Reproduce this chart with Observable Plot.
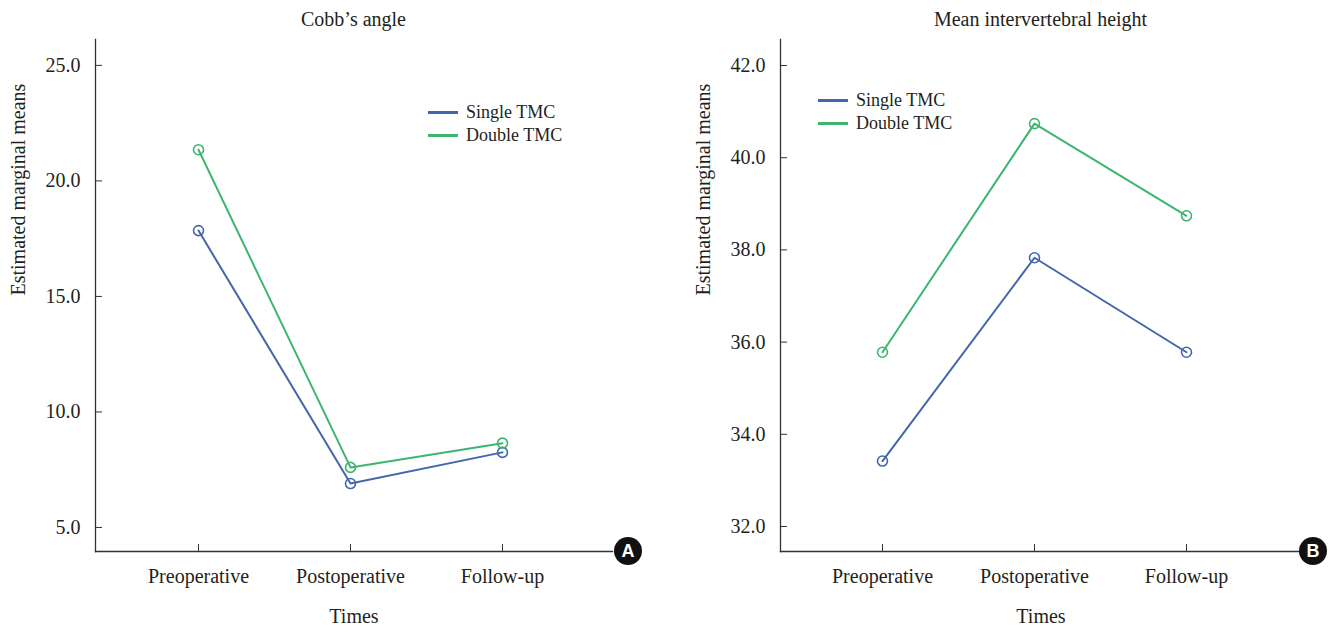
<!DOCTYPE html>
<html>
<head>
<meta charset="utf-8">
<script src="https://cdn.jsdelivr.net/npm/d3@7"></script>
<script src="https://cdn.jsdelivr.net/npm/@observablehq/plot@0.6"></script>
<style>
  html, body { margin: 0; padding: 0; background: #fff; }
  #wrap { position: relative; width: 1336px; height: 630px; overflow: hidden; font-family: "Liberation Serif", serif; color: #231f20; }
  .panel { position: absolute; top: 0; width: 668px; height: 630px; }
  .title { height: 38px; line-height: 38px; font-size: 20px; text-align: center; position: relative; white-space: nowrap; font-family: "Liberation Serif", serif; }
  .legend { position: absolute; font-size: 18px; font-family: "Liberation Serif", serif; }
  .legend .row { display: flex; align-items: center; height: 23px; }
  .legend .sw { width: 30px; height: 2.5px; margin-right: 8px; }
  .badge { position: absolute; width: 28px; height: 28px; border-radius: 50%; background: #111; color: #fff; font-family: "Liberation Sans", "DejaVu Sans", sans-serif; font-weight: bold; font-size: 18px; line-height: 28px; text-align: center; }
  svg { display: block; }
  svg text { font-family: "Liberation Serif", serif; }
</style>
</head>
<body>
<div id="wrap"></div>
<script>
// ---- Data ----
const times = ["Preoperative", "Postoperative", "Follow-up"];
const groups = ["Single TMC", "Double TMC"];
const groupColors = ["#4467ab", "#3db56f"];

const cobbSingle = [17.85, 6.9, 8.25];
const cobbDouble = [21.35, 7.6, 8.65];
const cobbTicks = [5, 10, 15, 20, 25];

const heightSingle = [33.42, 37.83, 35.78];
const heightDouble = [35.78, 40.74, 38.74];
const heightTicks = [32, 34, 36, 38, 40, 42];

const titles = ["Cobb\u2019s angle", "Mean intervertebral height"];
const xLabel = "Times";
const yLabel = "Estimated marginal means";
const badges = ["A", "B"];

function rowsOf(single, dbl) {
  const out = [];
  [single, dbl].forEach((arr, gi) => {
    times.forEach((t, i) => out.push({ time: t, group: groups[gi], value: arr[i] }));
  });
  return out;
}

const panels = [
  { left: 0, rows: rowsOf(cobbSingle, cobbDouble), ticks: cobbTicks, domain: [3.96, 26.12],
    mL: 95, mR: 56, padding: 0.69, align: 0.483, title: titles[0],
    legend: { left: 428, top: 101 }, badge: { cx: 628, cy: 551 }, letter: badges[0] },
  { left: 668, rows: rowsOf(heightSingle, heightDouble), ticks: heightTicks, domain: [31.458, 42.564],
    mL: 112, mR: 35, padding: 0.708, align: 0.468, title: titles[1],
    legend: { left: 150, top: 89 }, badge: { cx: 645, cy: 551 }, letter: badges[1] }
];

const wrap = document.getElementById("wrap");
const serif = "'Liberation Serif', serif";

panels.forEach(p => {
  const div = document.createElement("div");
  div.className = "panel";
  div.style.left = p.left + "px";
  wrap.appendChild(div);

  const W = 668, H = 592;
  const t = document.createElement("div");
  t.className = "title";
  t.style.marginLeft = p.mL + "px";
  t.style.width = (W - p.mL - p.mR) + "px";
  t.textContent = p.title;
  div.appendChild(t);

  const chart = Plot.plot({
    width: W,
    height: H,
    marginLeft: p.mL,
    marginRight: p.mR,
    marginTop: 1,
    marginBottom: 79,
    style: { fontFamily: serif, fontSize: "20px", color: "#231f20", background: "transparent" },
    x: { type: "point", domain: times, padding: p.padding, align: p.align },
    y: { domain: p.domain },
    color: { domain: groups, range: groupColors },
    marks: [
      Plot.frame({ anchor: "left", stroke: "#333", strokeWidth: 1.3 }),
      Plot.frame({ anchor: "bottom", stroke: "#333", strokeWidth: 1.3 }),
      Plot.axisY({ ticks: p.ticks, tickSize: 7, dx: 7, tickFormat: () => "", label: null, stroke: "#333" }),
      Plot.axisY({ ticks: p.ticks, tickSize: 0, tickPadding: 15, tickFormat: d => d.toFixed(1), label: null, fontSize: 20 }),
      Plot.axisX({ tickSize: 7, dy: -7, tickFormat: () => "", label: null, stroke: "#333" }),
      Plot.axisX({ tickSize: 0, tickPadding: 17, label: null, fontSize: 20 }),
      Plot.text([xLabel], { text: d => d, frameAnchor: "bottom", dy: 71, fontSize: 20 }),
      Plot.text([yLabel], { text: d => d, frameAnchor: "left", dx: -77, rotate: -90, fontSize: 20 }),
      Plot.line(p.rows, { x: "time", y: "value", stroke: "group", z: "group", strokeWidth: 2 }),
      Plot.dot(p.rows, { x: "time", y: "value", stroke: "group", r: 5, strokeWidth: 1.6, fill: "none" })
    ]
  });
  div.appendChild(chart);

  const lg = document.createElement("div");
  lg.className = "legend";
  lg.style.left = p.legend.left + "px";
  lg.style.top = p.legend.top + "px";
  groups.forEach((g, i) => {
    const row = document.createElement("div");
    row.className = "row";
    const sw = document.createElement("div");
    sw.className = "sw";
    sw.style.background = groupColors[i];
    const tx = document.createElement("span");
    tx.textContent = g;
    row.appendChild(sw);
    row.appendChild(tx);
    lg.appendChild(row);
  });
  div.appendChild(lg);

  const b = document.createElement("div");
  b.className = "badge";
  b.style.left = (p.badge.cx - 14) + "px";
  b.style.top = (p.badge.cy - 14) + "px";
  b.textContent = p.letter;
  div.appendChild(b);
});
</script>
</body>
</html>
